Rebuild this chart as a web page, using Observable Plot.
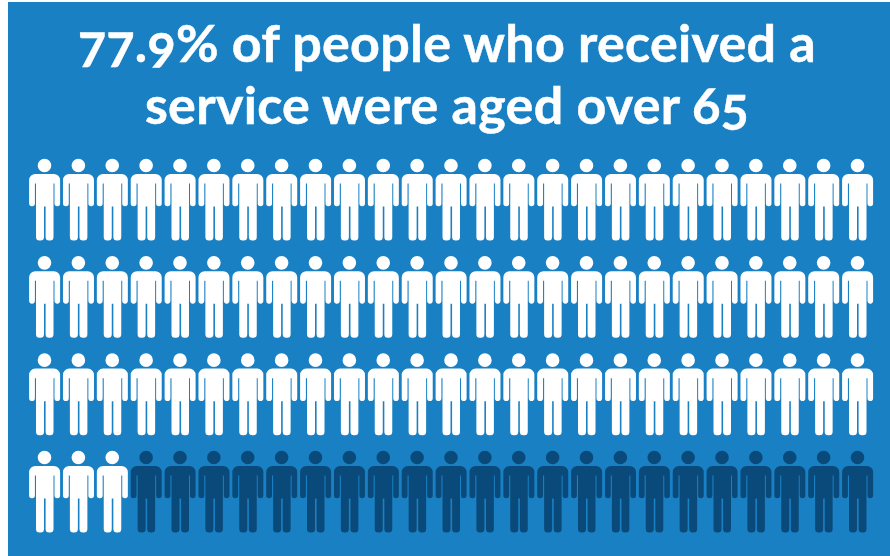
<!DOCTYPE html>
<html>
<head>
<meta charset="utf-8">
<script src="https://cdn.jsdelivr.net/npm/d3@7"></script>
<script src="https://cdn.jsdelivr.net/npm/@observablehq/plot@0.6"></script>
<style>
  html, body { margin: 0; padding: 0; background: #fff; }
  #panel {
    position: absolute; left: 8px; top: 2px; width: 882px; height: 554px;
    background: #1a80c4; overflow: hidden;
  }
  h1 {
    margin: 0; position: absolute; left: 0; width: 878px; top: 9px;
    text-align: center; color: #fff;
    font: 700 52px/62px Lato, sans-serif;
    font-variant-numeric: oldstyle-nums;
    letter-spacing: 0.3px;
    -webkit-text-stroke: 0.5px #fff;
  }
  #chart { position: absolute; left: 0; top: 146px; }
  #chart svg { display: block; background: transparent; }
</style>
</head>
<body>
<div id="panel">
  <h1>77.9% of people who received a<br>service were aged over 65</h1>
  <div id="chart"></div>
</div>
<script>
// Each figure stands for roughly one person in a hundred.
const rows = [1, 2, 3, 4];
const columns = d3.range(1, 26);
const agedOver65PerRow = [25, 25, 25, 3];
const groupNames = ["Aged over 65", "Aged 65 or under"];
const groupColors = ["#ffffff", "#0a4a7a"];

const people = rows.flatMap((row, i) =>
  columns.map((column) => ({
    row,
    column,
    group: column <= agedOver65PerRow[i] ? groupNames[0] : groupNames[1]
  }))
);

// Person pictogram, origin at the centre of the head, one unit per pixel at r = 1.
const person = {
  draw(ctx, size) {
    const k = Math.sqrt(size / Math.PI);
    const M = (x, y) => ctx.moveTo(x * k, y * k);
    const L = (x, y) => ctx.lineTo(x * k, y * k);
    const A = (x1, y1, x2, y2, r) => ctx.arcTo(x1 * k, y1 * k, x2 * k, y2 * k, r * k);

    // head
    M(6.8, 0);
    ctx.arc(0, 0, 6.8 * k, 0, 2 * Math.PI);
    ctx.closePath();

    // body: shoulders, arms, torso and legs traced as a single outline
    M(-9, 8.4);
    L(9.3, 8.4);
    A(15.6, 8.4, 15.6, 15, 6.2);
    L(15.6, 38);
    A(15.6, 40.8, 12.9, 40.8, 2.8);
    A(10, 40.8, 10, 38, 2.8);
    L(10, 18);
    L(9, 18);
    L(9, 72);
    A(9, 75, 5.2, 75, 3.5);
    A(1.1, 75, 1.1, 72, 3.5);
    L(1.1, 41);
    L(-0.5, 41);
    L(-0.5, 72);
    A(-0.5, 75, -4.4, 75, 3.5);
    A(-8.5, 75, -8.5, 72, 3.5);
    L(-8.5, 18);
    L(-9.6, 18);
    L(-9.6, 38);
    A(-9.6, 40.8, -12.5, 40.8, 2.8);
    A(-15.4, 40.8, -15.4, 38, 2.8);
    L(-15.4, 15);
    A(-15.4, 8.4, -9, 8.4, 6.2);
    ctx.closePath();
  }
};

const chart = Plot.plot({
  width: 882,
  height: 408,
  margin: 0,
  x: { axis: null, domain: [1, 25], range: [36, 849] },
  y: { axis: null, domain: [1, 4], range: [17, 309] },
  color: { domain: groupNames, range: groupColors },
  marks: [
    Plot.dot(people, {
      x: "column",
      y: "row",
      symbol: person,
      r: 1,
      fill: "group",
      stroke: "none"
    })
  ]
});
document.getElementById("chart").append(chart);
</script>
</body>
</html>
